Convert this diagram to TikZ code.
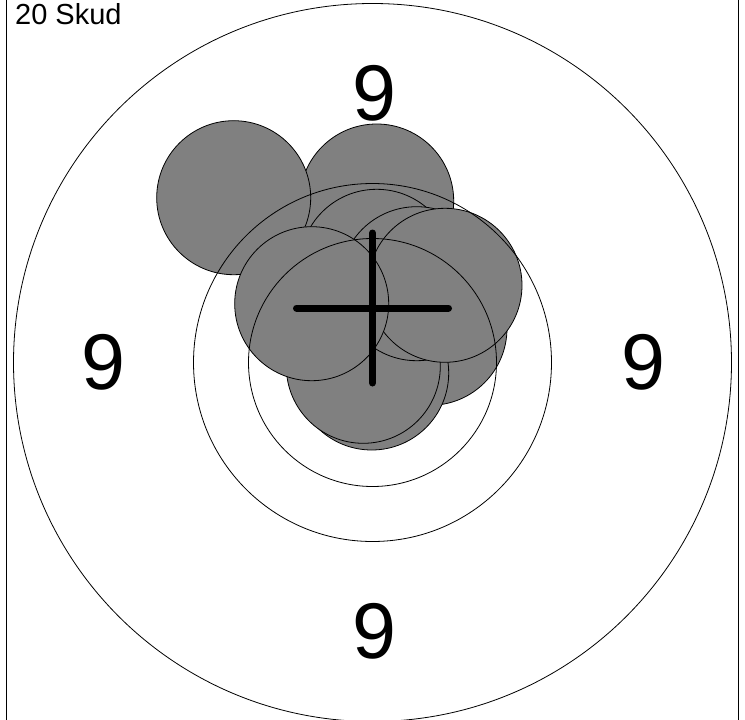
\documentclass[tikz,border=0pt]{standalone}
\usepackage{fontspec}
\setmainfont{Liberation Sans}
\usetikzlibrary{calc}

\begin{document}
\begin{tikzpicture}[x=1pt, y=-1pt,
  ring/.style={draw=black, line width=0.8pt},
  shot/.style={fill=black!50, draw=black, line width=0.8pt},
  score/.style={font=\fontsize{79}{79}\selectfont, inner sep=0pt},
  crossline/.style={line width=7pt, line cap=round}]

% Canvas
\useasboundingbox[fill=white] (0,0) rectangle (745,720);
\clip (0,0) rectangle (745,720);

% Frame
\draw[line width=1.2pt] (6.3,-10) rectangle (738.3,730);

\coordinate (ctr) at (372.5,362.5);

% ============ SHOTS (in firing order) ============
\foreach \sx/\sy in {376.7/201, 233.7/197.7, 430/328.3, 371.7/373, 363.3/366.3,
                     376.7/266.3, 416.7/283.7, 445/285.3, 311.7/303.7}
  \draw[shot] (\sx,\sy) circle[radius=77];

% ============ TARGET RINGS ============
\draw[ring] (ctr) circle[radius=359];
\draw[ring] (ctr) circle[radius=179];
\draw[ring] (ctr) circle[radius=124];

% Ring values
\node[score] (scoretop)    at ($(ctr)+(1.5,-269)$) {9};
\node[score] (scorebottom) at ($(ctr)+(1.5,269)$)  {9};
\node[score] (scoreleft)   at ($(ctr)+(-269,0)$) {9};
\node[score] (scoreright)  at ($(ctr)+(271,0)$)  {9};

% Shot count
\node[font=\fontsize{29}{29}\selectfont, anchor=base west, inner sep=0pt] (shotcount) at (15,24) {20 Skud};

% ============ MEAN POINT OF IMPACT ============
\coordinate (mpi) at (372.5,308);
\draw[crossline] ($(mpi)+(-76,0)$) -- ($(mpi)+(76,0)$);
\draw[crossline] ($(mpi)+(0,-75)$) -- ($(mpi)+(0,75)$);

\end{tikzpicture}
\end{document}
